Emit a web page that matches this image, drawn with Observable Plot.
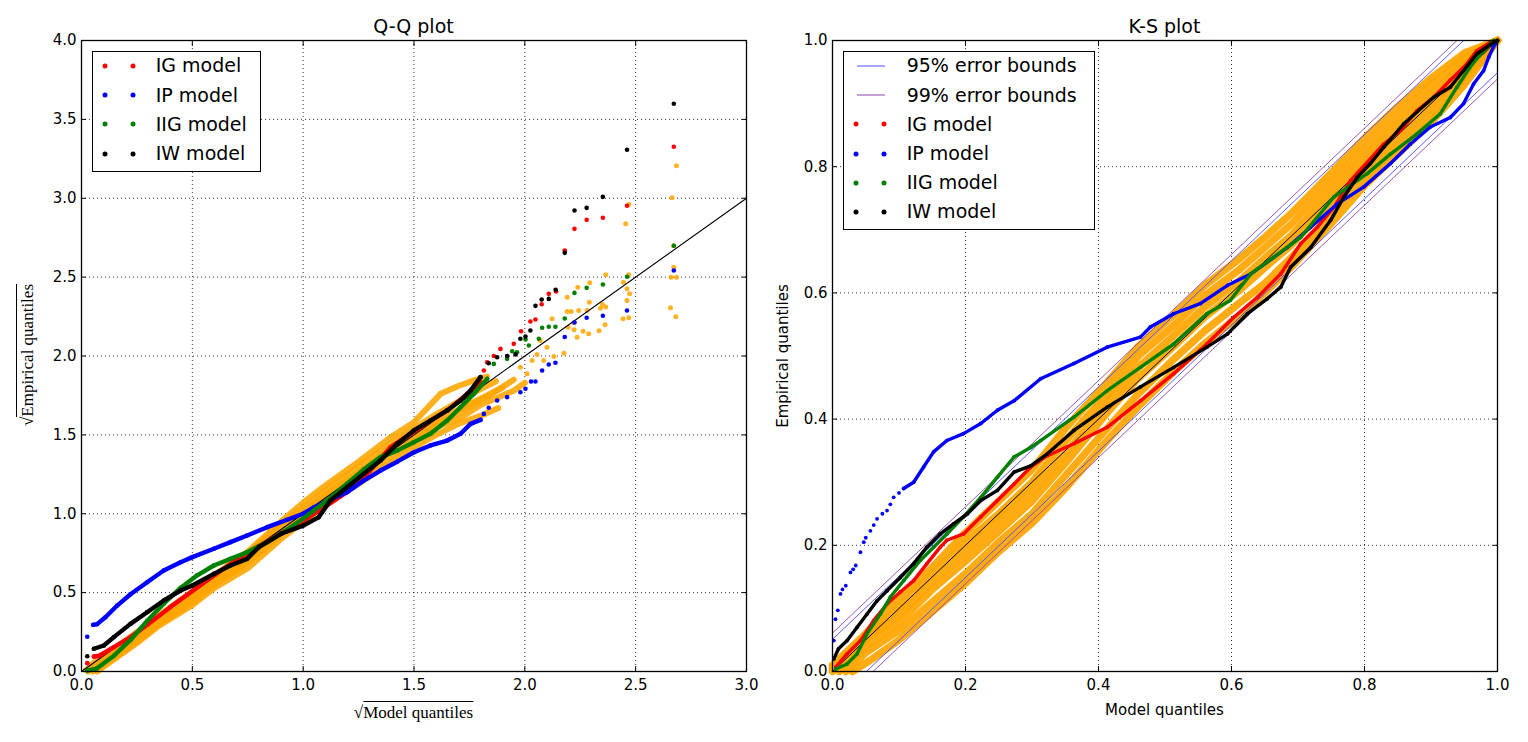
<!DOCTYPE html>
<html><head><meta charset="utf-8">
<script src="https://cdn.jsdelivr.net/npm/d3@7"></script>
<script src="https://cdn.jsdelivr.net/npm/@observablehq/plot@0.6"></script>
<style>
body{margin:0;background:#fff;font-family:"DejaVu Sans",sans-serif;color:#000}
#wrap{position:relative;width:1528px;height:742px;overflow:hidden;background:#fff}
.abs{position:absolute;white-space:nowrap}
.title{font-size:19px;height:24px;line-height:24px;transform:translateX(-50%)}
.lbox{position:absolute;border:1.2px solid #000;background:#fff;box-sizing:border-box}
.ltxt{position:absolute;font-size:19px;height:24px;line-height:24px;white-space:nowrap}
.ldot{position:absolute;width:5px;height:5px;border-radius:50%;transform:translate(-50%,-50%)}
.lline{position:absolute;height:1px;transform:translateY(-50%)}
.math{font-family:"Liberation Serif",serif;font-size:17px}
.rad{border-top:1px solid #000;padding-top:1px}
</style></head><body><div id="wrap"></div>
<script>
// ---------- Q-Q plot data (sqrt model quantile, sqrt empirical quantile) ----------
const qqTicksX = [0, 0.5, 1, 1.5, 2, 2.5, 3];
const qqTicksY = [0, 0.5, 1, 1.5, 2, 2.5, 3, 3.5, 4];
const qqRef = [[0,0],[3,3]];

const qqIG = [[0.056,0.095],[0.08,0.10],[0.146,0.154],[0.221,0.218],[0.30,0.30],[0.40,0.408],[0.50,0.51],[0.60,0.612],[0.70,0.71],[0.80,0.795],[0.90,0.875],[1.0,0.955],[1.1,1.045],[1.2,1.14],[1.3,1.27],[1.35,1.35],[1.394,1.422],[1.439,1.464],[1.529,1.549],[1.65,1.655],[1.74,1.76],[1.80,1.834]];
const qqIGPts = [[0.026,0.053],[1.815,1.908],[1.83,1.96],[1.86,2.0],[1.89,2.045],[1.95,2.077],[1.983,2.157],[2.025,2.219],[2.048,2.231],[2.076,2.328],[2.108,2.394],[2.141,2.409],[2.18,2.669],[2.224,2.806],[2.279,2.863],[2.352,2.876],[2.461,2.952],[2.672,3.326]];

const qqIP = [[0.053,0.296],[0.07,0.30],[0.108,0.344],[0.161,0.418],[0.221,0.49],[0.296,0.566],[0.371,0.64],[0.447,0.693],[0.5,0.725],[0.597,0.778],[0.672,0.82],[0.747,0.862],[0.838,0.915],[0.928,0.962],[1.0,1.0],[1.048,1.04],[1.123,1.09],[1.198,1.137],[1.273,1.21],[1.349,1.274],[1.424,1.33],[1.5,1.39],[1.574,1.433],[1.65,1.464],[1.71,1.507],[1.755,1.57],[1.80,1.595]];
const qqIPPts = [[0.026,0.22],[1.815,1.633],[1.837,1.672],[1.875,1.718],[1.92,1.739],[1.98,1.77],[2.003,1.792],[2.028,1.838],[2.048,1.838],[2.078,1.908],[2.108,1.946],[2.138,1.957],[2.18,2.12],[2.224,2.212],[2.279,2.242],[2.352,2.255],[2.461,2.288],[2.672,2.542]];

const qqIIG = [[0.026,0.006],[0.07,0.02],[0.146,0.1],[0.221,0.2],[0.296,0.32],[0.371,0.43],[0.447,0.53],[0.522,0.61],[0.597,0.672],[0.672,0.714],[0.747,0.756],[0.838,0.82],[0.928,0.9],[1.0,0.97],[1.048,1.02],[1.123,1.1],[1.198,1.19],[1.273,1.28],[1.349,1.359],[1.424,1.40],[1.5,1.454],[1.574,1.507],[1.65,1.591],[1.71,1.675],[1.77,1.76],[1.83,1.855]];
const qqIIGPts = [[1.86,1.95],[1.92,1.982],[1.943,2.03],[1.965,2.024],[2.003,2.105],[2.018,2.067],[2.063,2.109],[2.078,2.179],[2.108,2.185],[2.138,2.185],[2.18,2.238],[2.224,2.40],[2.279,2.432],[2.352,2.453],[2.461,2.502],[2.672,2.699]];

const qqIW = [[0.056,0.144],[0.101,0.165],[0.146,0.218],[0.221,0.302],[0.296,0.376],[0.371,0.45],[0.447,0.513],[0.5,0.545],[0.597,0.619],[0.672,0.672],[0.747,0.714],[0.8,0.788],[0.9,0.873],[1.0,0.925],[1.07,0.978],[1.123,1.084],[1.198,1.168],[1.273,1.253],[1.349,1.338],[1.424,1.443],[1.499,1.528],[1.574,1.591],[1.65,1.655],[1.71,1.718],[1.755,1.781],[1.80,1.866]];
const qqIWPts = [[0.026,0.097],[1.837,1.954],[1.875,1.992],[1.92,2.0],[1.958,2.01],[1.98,2.109],[2.003,2.124],[2.025,2.162],[2.048,2.318],[2.076,2.358],[2.108,2.362],[2.139,2.42],[2.18,2.654],[2.224,2.922],[2.279,2.939],[2.352,3.009],[2.461,3.307],[2.672,3.599]];

// simulated (orange) Q-Q curves
const qqSim1 = [[0.07,0],[0.15,0.08],[0.25,0.18],[0.35,0.29],[0.5,0.42],[0.6,0.53],[0.75,0.655],[0.9,0.84],[1.0,0.95],[1.1,1.06],[1.25,1.19],[1.4,1.33],[1.5,1.42],[1.6,1.5],[1.7,1.57],[1.8,1.62],[1.88,1.67]];
const qqSim2 = [[0.05,0],[0.15,0.09],[0.25,0.19],[0.35,0.30],[0.5,0.44],[0.6,0.55],[0.75,0.69],[0.9,0.87],[1.0,0.98],[1.1,1.09],[1.25,1.22],[1.4,1.37],[1.5,1.46],[1.6,1.55],[1.7,1.6],[1.8,1.69],[1.95,1.78],[2.0,1.83]];
const qqSim3 = [[0.03,0],[0.15,0.11],[0.25,0.21],[0.35,0.32],[0.5,0.47],[0.6,0.58],[0.75,0.72],[0.9,0.9],[1.0,1.01],[1.1,1.12],[1.25,1.26],[1.4,1.41],[1.5,1.5],[1.6,1.58],[1.7,1.66],[1.8,1.73],[1.9,1.8]];
const qqSim4 = [[0.02,0.01],[0.15,0.13],[0.25,0.235],[0.35,0.34],[0.5,0.49],[0.6,0.6],[0.75,0.745],[0.9,0.93],[1.0,1.04],[1.1,1.15],[1.25,1.3],[1.4,1.45],[1.5,1.54],[1.6,1.63],[1.7,1.71],[1.8,1.79],[1.87,1.84]];
const qqSim5 = [[0.04,0.04],[0.15,0.145],[0.25,0.25],[0.35,0.355],[0.5,0.505],[0.6,0.61],[0.75,0.76],[0.9,0.95],[1.0,1.07],[1.1,1.18],[1.25,1.33],[1.4,1.49],[1.5,1.58],[1.62,1.76],[1.7,1.81],[1.77,1.845],[1.83,1.87]];
const qqSim6 = [[0.06,0.02],[0.2,0.15],[0.35,0.3],[0.5,0.455],[0.75,0.7],[1.0,1.0],[1.2,1.2],[1.35,1.36],[1.45,1.44],[1.55,1.52],[1.65,1.6],[1.75,1.68],[1.85,1.76],[1.95,1.85]];
const qqSimPts = [[2.191,2.373],[2.239,2.436],[2.293,2.464],[2.291,2.341],[2.365,2.515],[2.35,2.326],[2.365,2.31],[2.469,2.515],[2.445,2.468],[2.461,2.426],[2.473,2.394],[2.461,2.352],[2.443,2.236],[2.469,2.242],[2.362,2.198],[2.335,2.16],[2.288,2.141],[2.263,2.157],[2.236,2.119],[2.222,2.166],[2.221,2.21],[2.195,2.183],[2.191,2.282],[2.209,2.282],[2.123,2.236],[2.1,2.056],[2.131,1.997],[2.176,2.018],[2.07,2.098],[2.055,2.01],[2.085,1.971],[2.033,1.971],[2.01,1.887],[1.98,1.929],[2.664,3.003],[2.684,3.206],[2.469,2.96],[2.455,2.838],[2.672,2.699],[2.672,2.563],[2.66,2.5],[2.684,2.5],[2.657,2.306],[2.681,2.249],[2.341,2.303],[2.281,2.288],[2.243,2.288]];

// ---------- K-S plot data (model quantile, empirical quantile) ----------
const ksTicks = [0, 0.2, 0.4, 0.6, 0.8, 1];
const ksDiag = [[0,0],[1,1]];
const ks95Up = [[0,0.051],[1,1.051]];
const ks95Lo = [[0,-0.051],[1,0.949]];
const ks99Up = [[0,0.061],[1,1.061]];
const ks99Lo = [[0,-0.061],[1,0.939]];

const ksIG = [[0.005,0.007],[0.022,0.028],[0.042,0.049],[0.062,0.081],[0.082,0.107],[0.102,0.126],[0.122,0.144],[0.142,0.171],[0.162,0.197],[0.172,0.208],[0.197,0.218],[0.223,0.245],[0.248,0.271],[0.273,0.297],[0.298,0.324],[0.323,0.342],[0.363,0.361],[0.413,0.387],[0.463,0.429],[0.513,0.472],[0.563,0.519],[0.603,0.561],[0.639,0.593],[0.674,0.63],[0.704,0.678],[0.729,0.704],[0.754,0.736],[0.779,0.778],[0.829,0.836],[0.854,0.857],[0.879,0.889],[0.904,0.91],[0.929,0.937],[0.954,0.963],[0.969,0.984],[0.989,0.997],[1,1]];
const ksIPPts = [[0.002,0.049],[0.0045,0.083],[0.008,0.097],[0.012,0.123],[0.015,0.13],[0.02,0.136],[0.027,0.157],[0.031,0.162],[0.035,0.168],[0.042,0.189],[0.047,0.205],[0.05,0.212],[0.057,0.223],[0.062,0.232],[0.067,0.242],[0.075,0.25],[0.082,0.255],[0.087,0.265],[0.092,0.276],[0.1,0.283]];
const ksIP = [[0.107,0.29],[0.122,0.30],[0.137,0.324],[0.152,0.348],[0.172,0.366],[0.197,0.377],[0.223,0.393],[0.248,0.414],[0.273,0.429],[0.313,0.464],[0.363,0.488],[0.413,0.514],[0.463,0.53],[0.478,0.546],[0.513,0.567],[0.553,0.583],[0.594,0.612],[0.629,0.63],[0.684,0.672],[0.719,0.704],[0.759,0.741],[0.799,0.768],[0.839,0.805],[0.869,0.836],[0.899,0.863],[0.929,0.878],[0.949,0.90],[0.964,0.931],[0.979,0.952],[0.987,0.974],[0.994,0.99],[1,1]];
const ksIIG = [[0.005,0.004],[0.022,0.012],[0.037,0.028],[0.052,0.06],[0.072,0.091],[0.087,0.118],[0.107,0.144],[0.132,0.176],[0.152,0.197],[0.172,0.218],[0.197,0.245],[0.223,0.276],[0.248,0.308],[0.273,0.34],[0.298,0.355],[0.313,0.366],[0.363,0.403],[0.413,0.445],[0.463,0.482],[0.513,0.519],[0.563,0.567],[0.598,0.588],[0.629,0.63],[0.664,0.657],[0.704,0.688],[0.754,0.752],[0.804,0.789],[0.839,0.82],[0.879,0.852],[0.914,0.884],[0.939,0.926],[0.959,0.958],[0.979,0.984],[0.994,1.0]];
const ksIW = [[0.002,0.02],[0.009,0.036],[0.022,0.049],[0.037,0.07],[0.052,0.091],[0.067,0.112],[0.082,0.128],[0.102,0.149],[0.122,0.171],[0.142,0.197],[0.162,0.218],[0.182,0.234],[0.203,0.25],[0.223,0.271],[0.248,0.287],[0.273,0.316],[0.298,0.326],[0.323,0.345],[0.363,0.382],[0.413,0.419],[0.463,0.451],[0.513,0.482],[0.563,0.514],[0.594,0.535],[0.624,0.567],[0.654,0.591],[0.674,0.609],[0.689,0.641],[0.719,0.672],[0.749,0.715],[0.769,0.752],[0.789,0.783],[0.809,0.805],[0.829,0.831],[0.859,0.868],[0.904,0.91],[0.929,0.926],[0.969,0.979],[0.994,0.997],[1,1]];

const ksSim1 = [[0.03,0],[0.06,0.02],[0.1,0.05],[0.15,0.095],[0.2,0.14],[0.25,0.19],[0.3,0.235],[0.35,0.29],[0.413,0.366],[0.46,0.42],[0.513,0.475],[0.56,0.52],[0.613,0.565],[0.65,0.6],[0.689,0.64],[0.75,0.71],[0.8,0.77],[0.85,0.82],[0.9,0.87],[0.95,0.93],[1,1]];
const ksSim2 = [[0.02,0],[0.05,0.03],[0.1,0.065],[0.15,0.11],[0.2,0.155],[0.25,0.205],[0.3,0.25],[0.35,0.31],[0.413,0.385],[0.46,0.44],[0.513,0.495],[0.56,0.54],[0.613,0.585],[0.65,0.615],[0.689,0.655],[0.75,0.725],[0.8,0.785],[0.85,0.835],[0.9,0.885],[0.95,0.94],[1,1]];
const ksSim3 = [[0.01,0],[0.05,0.04],[0.1,0.078],[0.15,0.13],[0.2,0.175],[0.25,0.222],[0.3,0.27],[0.35,0.33],[0.413,0.41],[0.46,0.465],[0.513,0.515],[0.56,0.562],[0.613,0.605],[0.65,0.64],[0.689,0.675],[0.75,0.745],[0.8,0.8],[0.85,0.85],[0.9,0.9],[0.95,0.952],[1,1]];
const ksSim4 = [[0,0],[0.05,0.05],[0.1,0.09],[0.15,0.142],[0.2,0.19],[0.25,0.237],[0.3,0.285],[0.35,0.345],[0.413,0.425],[0.46,0.482],[0.513,0.532],[0.56,0.578],[0.613,0.62],[0.65,0.655],[0.689,0.69],[0.75,0.76],[0.8,0.815],[0.85,0.865],[0.9,0.915],[0.95,0.962],[1,1]];
const ksSim5 = [[0,0.005],[0.05,0.055],[0.1,0.1],[0.15,0.155],[0.2,0.205],[0.25,0.25],[0.3,0.3],[0.35,0.365],[0.413,0.44],[0.46,0.5],[0.513,0.548],[0.56,0.596],[0.613,0.638],[0.65,0.672],[0.689,0.708],[0.75,0.775],[0.8,0.83],[0.85,0.88],[0.9,0.93],[0.95,0.972],[1,1]];
const ksSim6 = [[0,0.01],[0.05,0.06],[0.1,0.115],[0.15,0.165],[0.2,0.22],[0.25,0.27],[0.3,0.32],[0.35,0.385],[0.413,0.458],[0.46,0.515],[0.513,0.565],[0.56,0.612],[0.613,0.655],[0.65,0.688],[0.689,0.725],[0.75,0.79],[0.8,0.845],[0.85,0.895],[0.9,0.94],[0.95,0.98],[1,1]];

const models = ["IG model", "IP model", "IIG model", "IW model"];
const modelColors = ["#ff0000", "#0000ff", "#008000", "#000000"];
const simColor = "#ffa500";
const c95 = "#4a4aff", c99 = "#8e44ad";

// ---------- helpers ----------
const X = d => d[0], Y = d => d[1];
function curve(data, color, w, r) {
  return [
    Plot.line(data, {x: X, y: Y, stroke: color, strokeWidth: w, strokeLinecap: "round", strokeLinejoin: "round"}),
    Plot.dot(data, {x: X, y: Y, r, fill: color})
  ];
}
function pts(data, color, r, op = 1) {
  return Plot.dot(data, {x: X, y: Y, r, fill: color, fillOpacity: op});
}
function panel({xDomain, yDomain, xTicks, yTicks, marginLeft, marginRight, marks}) {
  return Plot.plot({
    width: 764, height: 742, marginTop: 40, marginBottom: 71, marginLeft, marginRight,
    x: {domain: xDomain}, y: {domain: yDomain},
    style: {fontFamily: "DejaVu Sans", fontSize: "15px", color: "black", background: "transparent", overflow: "visible"},
    marks: [
      Plot.gridX(xTicks, {stroke: "black", strokeOpacity: 1, strokeDasharray: "1,3", strokeWidth: 0.8}),
      Plot.gridY(yTicks, {stroke: "black", strokeOpacity: 1, strokeDasharray: "1,3", strokeWidth: 0.8}),
      ...marks,
      Plot.frame({stroke: "black", strokeWidth: 1.3}),
      Plot.axisX(xTicks, {anchor: "bottom", tickSize: -5, tickPadding: 13, tickFormat: d => d.toFixed(1), label: null, fontSize: 15}),
      Plot.axisX(xTicks, {anchor: "top", tickSize: -5, tickFormat: () => "", label: null}),
      Plot.axisY(yTicks, {anchor: "left", tickSize: -5, tickPadding: 10, tickFormat: d => d.toFixed(1), label: null, fontSize: 15}),
      Plot.axisY(yTicks, {anchor: "right", tickSize: -5, tickFormat: () => "", label: null})
    ]
  });
}

const wrap = document.getElementById("wrap");

// ---------- left: Q-Q ----------
const qqSims = [qqSim1, qqSim2, qqSim3, qqSim4, qqSim5, qqSim6];
const qqBodies = [qqIG, qqIP, qqIIG, qqIW];
const qqPts = [qqIGPts, qqIPPts, qqIIGPts, qqIWPts];
const leftMarks = [
  ...qqSims.map(s => Plot.line(s, {x: X, y: Y, stroke: simColor, strokeOpacity: 0.88, strokeWidth: 6, strokeLinecap: "round", strokeLinejoin: "round"})),
  pts(qqSimPts, simColor, 2.5, 0.85),
  Plot.line(qqRef, {x: X, y: Y, stroke: "black", strokeWidth: 1.1}),
  ...qqBodies.flatMap((b, i) => [...curve(b, modelColors[i], 4.4, 2.3), pts(qqPts[i], modelColors[i], 2.3)])
];
const left = panel({xDomain: [0, 3], yDomain: [0, 4], xTicks: qqTicksX, yTicks: qqTicksY, marginLeft: 81, marginRight: 18, marks: leftMarks});
left.style.position = "absolute"; left.style.left = "0px"; left.style.top = "0px";
wrap.appendChild(left);

// ---------- right: K-S ----------
const ksSims = [ksSim1, ksSim2, ksSim3, ksSim4, ksSim5, ksSim6];
const rightMarks = [
  ...ksSims.map(s => Plot.line(s, {x: X, y: Y, stroke: simColor, strokeOpacity: 0.92, strokeWidth: 7.5, strokeLinecap: "round", strokeLinejoin: "round"})),
  Plot.line(ksDiag, {x: X, y: Y, stroke: "black", strokeWidth: 1}),
  Plot.line(ks95Up, {x: X, y: Y, stroke: c95, strokeWidth: 0.9, clip: true}),
  Plot.line(ks95Lo, {x: X, y: Y, stroke: c95, strokeWidth: 0.9, clip: true}),
  Plot.line(ks99Up, {x: X, y: Y, stroke: c99, strokeWidth: 0.9, clip: true}),
  Plot.line(ks99Lo, {x: X, y: Y, stroke: c99, strokeWidth: 0.9, clip: true}),
  ...curve(ksIG, modelColors[0], 3.4, 1.9),
  pts(ksIPPts, modelColors[1], 1.9),
  ...curve(ksIP, modelColors[1], 3.4, 1.9),
  ...curve(ksIIG, modelColors[2], 3.4, 1.9),
  ...curve(ksIW, modelColors[3], 3.4, 1.9)
];
const right = panel({xDomain: [0, 1], yDomain: [0, 1], xTicks: ksTicks, yTicks: ksTicks, marginLeft: 68, marginRight: 31, marks: rightMarks});
right.style.position = "absolute"; right.style.left = "764px"; right.style.top = "0px";
wrap.appendChild(right);

// ---------- text overlays ----------
function add(html, css, cls = "abs") {
  const d = document.createElement("div");
  d.className = cls; d.innerHTML = html; Object.assign(d.style, css); wrap.appendChild(d); return d;
}
add("Q-Q plot", {left: "413.5px", top: "14px"}, "abs title");
add("K-S plot", {left: "1164.5px", top: "14px"}, "abs title");
add('√<span class="rad">Model quantiles</span>', {left: "413.5px", top: "713px", transform: "translate(-50%,-50%)"}, "abs math");
add('√<span class="rad">Empirical quantiles</span>', {left: "28px", top: "355px", transform: "translate(-50%,-50%) rotate(-90deg)"}, "abs math");
add("Model quantiles", {left: "1164.5px", top: "710px", fontSize: "15px", transform: "translate(-50%,-50%)"});
add("Empirical quantiles", {left: "783px", top: "356px", fontSize: "15px", transform: "translate(-50%,-50%) rotate(-90deg)"});

// legends
function legend(x0, y0, w, h, entries) {
  const box = document.createElement("div");
  box.className = "lbox";
  Object.assign(box.style, {left: x0 + "px", top: y0 + "px", width: w + "px", height: h + "px"});
  wrap.appendChild(box);
  entries.forEach((e, i) => {
    const cy = 66 + i * 29.2;
    if (e.type === "line") {
      add("", {left: (x0 + 14) + "px", top: cy + "px", width: "28px", background: e.color}, "lline");
    } else {
      add("", {left: (x0 + 13.6) + "px", top: cy + "px", background: e.color}, "ldot");
      add("", {left: (x0 + 41.6) + "px", top: cy + "px", background: e.color}, "ldot");
    }
    add(e.label, {left: (x0 + 64) + "px", top: (cy - 12.6) + "px"}, "ltxt");
  });
}
legend(91.7, 50.7, 169, 121.6, models.map((m, i) => ({label: m, color: modelColors[i]})));
legend(842.7, 50.7, 252.3, 179.3, [
  {type: "line", label: "95% error bounds", color: c95},
  {type: "line", label: "99% error bounds", color: c99},
  ...models.map((m, i) => ({label: m, color: modelColors[i]}))
]);
</script></body></html>
